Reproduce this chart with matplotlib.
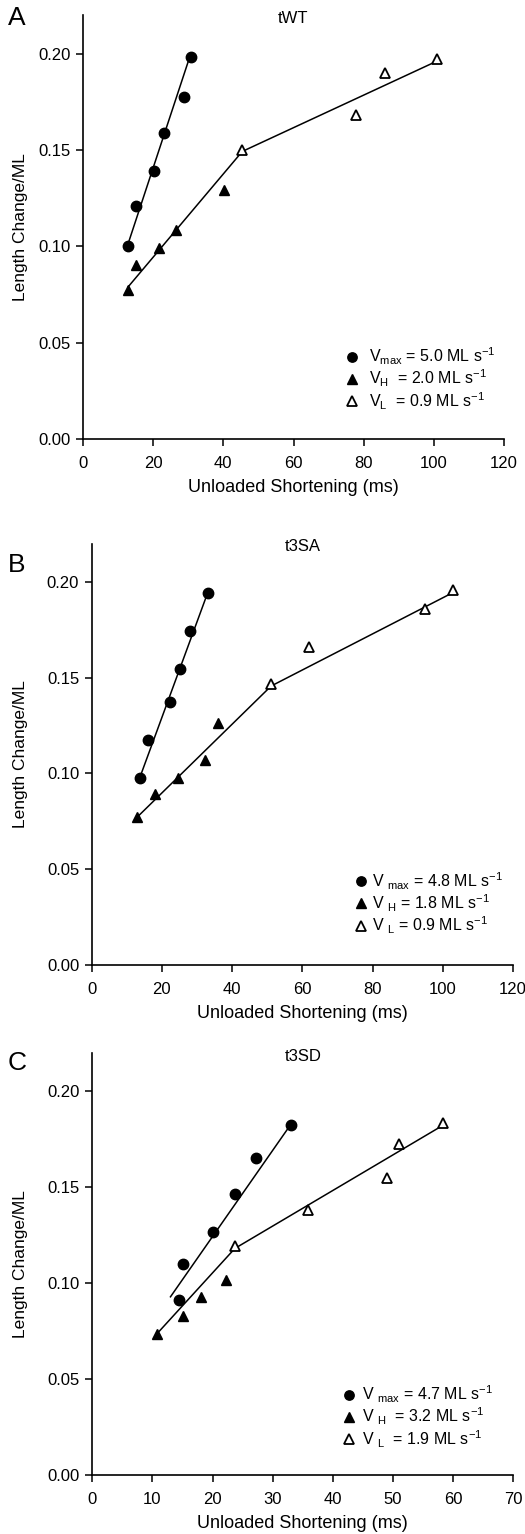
import matplotlib
matplotlib.use("Agg")
import matplotlib.pyplot as plt

plt.rcParams['font.family'] = ['Liberation Sans', 'DejaVu Sans']
plt.rcParams['mathtext.fontset'] = 'custom'
plt.rcParams['mathtext.rm'] = 'Liberation Sans'
plt.rcParams['mathtext.it'] = 'Liberation Sans'
plt.rcParams['mathtext.default'] = 'regular'

# ---------------- data ----------------
panel_letters = ["A", "B", "C"]
panel_titles = ["tWT", "t3SA", "t3SD"]
x_max = [120, 120, 70]
x_step = [20, 20, 10]
y_ticks = [0.00, 0.05, 0.10, 0.15, 0.20]

# Panel A (tWT)
A_max_x = [12.8, 15.1, 20.2, 23.1, 28.7, 30.9]
A_max_y = [0.1004, 0.1208, 0.139, 0.159, 0.1776, 0.198]
A_H_x = [12.8, 15.0, 21.6, 26.6, 40.1]
A_H_y = [0.0774, 0.0903, 0.0993, 0.1085, 0.1293]
A_L_x = [45.4, 77.7, 86.2, 100.8]
A_L_y = [0.1497, 0.1679, 0.1899, 0.197]
A_fitmax_x = [12.8, 30.2]
A_fitmax_y = [0.101, 0.197]
A_fitHL_x = [12.8, 45.4, 100.8]
A_fitHL_y = [0.0788, 0.1492, 0.196]
A_legend = ["V$_{max}$ = 5.0 ML s$^{-1}$",
            "V$_{H}$  = 2.0 ML s$^{-1}$",
            "V$_{L}$  = 0.9 ML s$^{-1}$"]

# Panel B (t3SA)
B_max_x = [13.8, 16.0, 22.3, 25.2, 28.1, 33.2]
B_max_y = [0.0974, 0.1173, 0.1371, 0.1543, 0.1742, 0.194]
B_H_x = [13.0, 18.1, 24.5, 32.4, 36.1]
B_H_y = [0.0771, 0.0891, 0.0977, 0.1068, 0.1265]
B_L_x = [51.1, 61.9, 95.0, 102.8]
B_L_y = [0.1465, 0.1658, 0.1858, 0.1959]
B_fitmax_x = [13.8, 32.8]
B_fitmax_y = [0.0983, 0.1931]
B_fitHL_x = [12.3, 51.1, 102.8]
B_fitHL_y = [0.0760, 0.1456, 0.1943]
B_legend = ["V $_{max}$ = 4.8 ML s$^{-1}$",
            "V $_{H}$ = 1.8 ML s$^{-1}$",
            "V $_{L}$ = 0.9 ML s$^{-1}$"]

# Panel C (t3SD)
C_max_x = [14.4, 15.1, 20.1, 23.7, 27.3, 33.0]
C_max_y = [0.0913, 0.1101, 0.1266, 0.1464, 0.1655, 0.1823]
C_H_x = [10.8, 15.1, 18.0, 22.3]
C_H_y = [0.0734, 0.0828, 0.0927, 0.1016]
C_L_x = [23.7, 35.9, 49.0, 51.0, 58.3]
C_L_y = [0.1193, 0.1384, 0.1549, 0.1727, 0.1837]
C_fitmax_x = [13.0, 32.7]
C_fitmax_y = [0.0929, 0.1814]
C_fitHL_x = [10.8, 23.7, 58.3]
C_fitHL_y = [0.0738, 0.1181, 0.1823]
C_legend = ["V $_{max}$ = 4.7 ML s$^{-1}$",
            "V $_{H}$  = 3.2 ML s$^{-1}$",
            "V $_{L}$  = 1.9 ML s$^{-1}$"]

panels = [
    (A_max_x, A_max_y, A_H_x, A_H_y, A_L_x, A_L_y, A_fitmax_x, A_fitmax_y, A_fitHL_x, A_fitHL_y, A_legend),
    (B_max_x, B_max_y, B_H_x, B_H_y, B_L_x, B_L_y, B_fitmax_x, B_fitmax_y, B_fitHL_x, B_fitHL_y, B_legend),
    (C_max_x, C_max_y, C_H_x, C_H_y, C_L_x, C_L_y, C_fitmax_x, C_fitmax_y, C_fitHL_x, C_fitHL_y, C_legend),
]

# ---------------- layout ----------------
W, H = 525, 1534
fig = plt.figure(figsize=(W / 100, H / 100), dpi=100)
# (left px, right px, zero-y px, top-y px)
boxes = [(83, 504, 439, 15), (91.7, 513, 965, 543.5), (92.3, 513.3, 1475, 1053)]
letter_y_px = [18, 565, 1063]
legend_anchor = [(0.62, 0.22), (0.62, 0.225), (0.59, 0.216)]
legend_pad = [0.55, 0.2, 0.35]

for i, (box, pdata) in enumerate(zip(boxes, panels)):
    l, r, y0, yt = box
    ax = fig.add_axes([l / W, 1 - y0 / H, (r - l) / W, (y0 - yt) / H])
    (mx, my, hx, hy, lx, ly, fmx, fmy, fhx, fhy, leg) = pdata
    ax.plot(fmx, fmy, color='black', lw=1.1, zorder=2)
    ax.plot(fhx, fhy, color='black', lw=1.1, zorder=2)
    h1, = ax.plot(mx, my, 'o', ms=7.5, color='black', ls='none', zorder=3)
    h2, = ax.plot(hx, hy, '^', ms=7.5, color='black', ls='none', zorder=3)
    h3, = ax.plot(lx, ly, '^', ms=7.5, mfc='white', mec='black', mew=1.3, ls='none', zorder=3)
    ax.set_xlim(0, x_max[i])
    ax.set_ylim(0, 0.22)
    ax.set_xticks(range(0, x_max[i] + 1, x_step[i]))
    ax.set_yticks(y_ticks)
    ax.set_yticklabels([f"{v:.2f}" for v in y_ticks])
    for s in ['top', 'right']:
        ax.spines[s].set_visible(False)
    for s in ['left', 'bottom']:
        ax.spines[s].set_linewidth(1.2)
    ax.tick_params(direction='out', length=5, width=1.1, labelsize=12)
    ax.tick_params(axis='x', pad=7)
    ax.tick_params(axis='y', pad=4)
    ax.set_xlabel("Unloaded Shortening (ms)", fontsize=13, labelpad=6)
    ax.set_ylabel("Length Change/ML", fontsize=12.5)
    ax.yaxis.set_label_coords((28 - l) / (r - l), 0.5)
    ax.text(0.5, 0.992, panel_titles[i], transform=ax.transAxes, ha='center', va='center', fontsize=12)
    fig.text(8 / W, 1 - letter_y_px[i] / H, panel_letters[i],
             fontsize=19, ha='left', va='center')
    ax.legend([h1, h2, h3], leg, loc='upper left', bbox_to_anchor=legend_anchor[i],
              frameon=False, fontsize=11.5, handlelength=1.0, handletextpad=legend_pad[i],
              labelspacing=0.05, borderpad=0, borderaxespad=0, markerscale=0.9)

fig.savefig("out.png", dpi=100)
